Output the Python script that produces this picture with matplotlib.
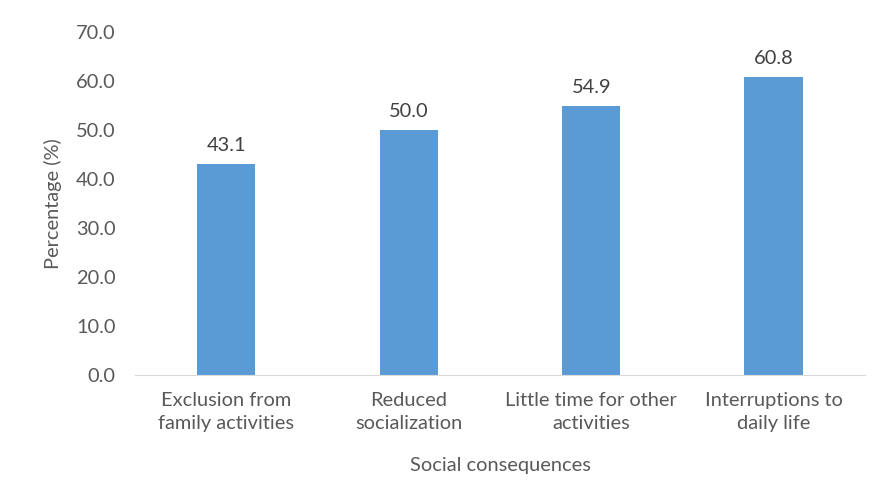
import matplotlib.pyplot as plt
import numpy as np

# Chart data
categories = ['Exclusion from\nfamily activities', 'Reduced\nsocialization',
              'Little time for other\nactivities', 'Interruptions to\ndaily life']
values = [43.1, 50.0, 54.9, 60.8]
yticks = [0, 10, 20, 30, 40, 50, 60, 70]

plt.rcParams['font.family'] = ['Lato', 'DejaVu Sans']
gray = '#595959'
fs = 14.4

fig = plt.figure(figsize=(8.79, 4.86), dpi=100)
ax = fig.add_axes([0.1536, 0.2284, 0.8304, 0.7056])

x = np.arange(len(categories))
bars = ax.bar(x, values, width=0.32, color='#5B9BD5')

# Value labels above bars
for xi, v in zip(x, values):
    ax.text(xi, v + 2.0, f'{v:.1f}', ha='center', va='bottom', fontsize=fs, color='#404040')

ax.set_xlim(-0.5, len(categories) - 0.5)
ax.set_ylim(0, 70)
ax.set_yticks(yticks)
ax.set_yticklabels([f'{t:.1f}' for t in yticks])
ax.set_xticks(x)
ax.set_xticklabels(categories, linespacing=1.45)

for s in ['top', 'right', 'left']:
    ax.spines[s].set_visible(False)
ax.spines['bottom'].set_color('#D9D9D9')
ax.tick_params(axis='both', length=0, labelsize=fs, colors=gray)
ax.tick_params(axis='y', pad=14)
ax.tick_params(axis='x', pad=12)

ax.set_ylabel('Percentage (%)', fontsize=fs, color=gray, labelpad=10)
ax.set_xlabel('Social consequences', fontsize=fs, color=gray, labelpad=18)

plt.savefig('out.png', dpi=100)
